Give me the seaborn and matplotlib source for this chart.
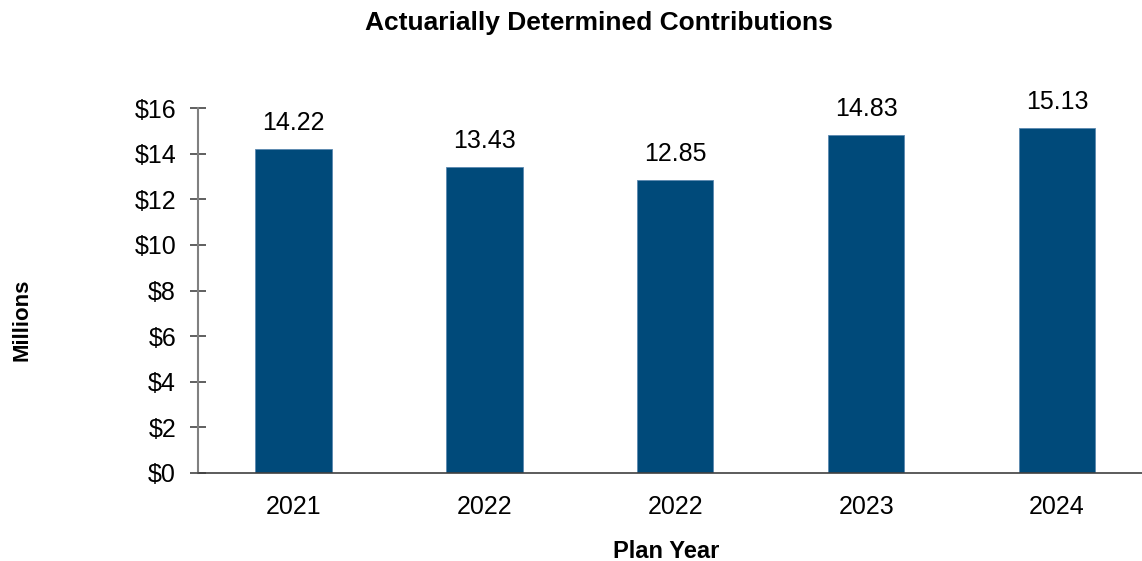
import matplotlib
matplotlib.use("Agg")
import matplotlib.pyplot as plt
import seaborn as sns
import pandas as pd

categories = ["2021", "2022", "2022", "2023", "2024"]
values = [14.22, 13.43, 12.85, 14.83, 15.13]
y_ticks = [0, 2, 4, 6, 8, 10, 12, 14, 16]
y_labels = ["$0", "$2", "$4", "$6", "$8", "$10", "$12", "$14", "$16"]

sns.set_style("white")
plt.rcParams["font.family"] = ["Liberation Sans", "DejaVu Sans"]
plt.rcParams["text.color"] = "black"
plt.rcParams["xtick.color"] = "black"
plt.rcParams["ytick.color"] = "black"

df = pd.DataFrame({"pos": list(range(len(categories))), "value": values})

fig = plt.figure(figsize=(11.42, 5.61), dpi=100)
ax = fig.add_axes([198 / 1142, 1 - 473 / 561, (1142 - 198) / 1142, (473 - 108) / 561])

sns.barplot(data=df, x="pos", y="value", color="#004A7A", width=0.4,
            edgecolor="#5a88b0", linewidth=0.6, saturation=1, ax=ax,
            order=list(range(len(categories))))

ax.set_xlim(-0.5, 4.445)
ax.set_ylim(0, 16)
ax.set_yticks(y_ticks)
ax.set_yticklabels(y_labels, fontsize=18, color="black")
ax.set_xticks(range(len(categories)))
ax.set_xticklabels(categories, fontsize=18, color="black")
ax.tick_params(axis="x", bottom=False, length=0, pad=16)
ax.tick_params(axis="y", left=True, direction="inout", length=11.5, width=1.2,
               color="#444444", pad=10)

for s in ["top", "right"]:
    ax.spines[s].set_visible(False)
ax.spines["left"].set_color("#808080")
ax.spines["left"].set_linewidth(1.5)
ax.spines["bottom"].set_color("#404040")
ax.spines["bottom"].set_linewidth(1.2)

for i, v in enumerate(values):
    ax.annotate(f"{v:.2f}", (i, v), xytext=(0, 10), textcoords="offset points",
                ha="center", va="bottom", fontsize=18, color="black")

ax.set_xlabel("")
ax.set_ylabel("")
fig.text(666 / 1142, 1 - 551 / 561, "Plan Year", ha="center", va="center",
         fontsize=17, fontweight="bold")
fig.text(22 / 1142, 1 - 320 / 561, "Millions", ha="center", va="center",
         rotation=90, fontsize=16, fontweight="bold")
fig.text(599 / 1142, 1 - 23 / 561, "Actuarially Determined Contributions", ha="center",
         va="center", fontsize=19, fontweight="bold")

fig.savefig("out.png", dpi=100)
